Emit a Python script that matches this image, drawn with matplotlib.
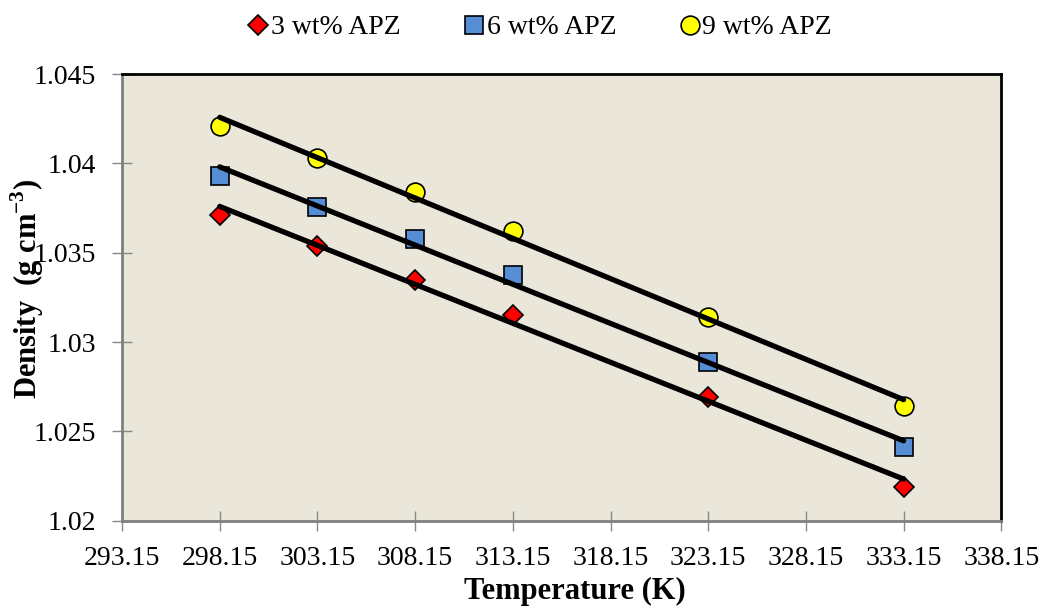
import matplotlib.pyplot as plt
import numpy as np

plt.rcParams['font.family'] = ['Liberation Serif', 'DejaVu Serif']
plt.rcParams['mathtext.fontset'] = 'custom'
plt.rcParams['mathtext.rm'] = 'Liberation Serif'
plt.rcParams['mathtext.bf'] = 'Liberation Serif:bold'

temps = [298.15, 303.15, 308.15, 313.15, 323.15, 333.15]
dens_3 = [1.03711, 1.03538, 1.03348, 1.03152, 1.02693, 1.02190]
dens_6 = [1.03930, 1.03756, 1.03577, 1.03376, 1.02889, 1.02414]
dens_9 = [1.04209, 1.04030, 1.03840, 1.03622, 1.03141, 1.02643]

xticks = [293.15, 298.15, 303.15, 308.15, 313.15, 318.15, 323.15, 328.15, 333.15, 338.15]
yticks = [1.02, 1.025, 1.03, 1.035, 1.04, 1.045]

fig = plt.figure(figsize=(10.43, 6.12), dpi=100)
ax = fig.add_axes([0.117, 0.149, 0.843, 0.730])
ax.set_facecolor('#eae6da')

series = [
    (dens_3, 'D', '#ff0000', 10.5, '3 wt% APZ'),
    (dens_6, 's', '#558ed5', 13, '6 wt% APZ'),
    (dens_9, 'o', '#ffff00', 13.5, '9 wt% APZ'),
]

x = np.array(temps)
for d, m, c, ms, lab in series:
    # linear trend line over the data range
    k, b = np.polyfit(x, d, 1)
    xx = np.array([x.min(), x.max()])
    ax.plot(xx, k * xx + b, color='black', lw=3.8, zorder=3, solid_capstyle='round')
    ax.plot(temps, d, ls='none', marker=m, ms=ms, mfc=c, mec='black', mew=1.2,
            label=lab, zorder=2)

ax.set_xlim(293.15, 338.15)
ax.set_ylim(1.02, 1.045)
ax.set_xticks(xticks)
ax.set_xticklabels(['%.2f' % t for t in xticks])
ax.set_yticks(yticks)
ax.set_yticklabels(['1.02', '1.025', '1.03', '1.035', '1.04', '1.045'])
ax.tick_params(direction='inout', length=14, width=1, color='#888888', labelsize=20)
ax.tick_params(axis='x', pad=11)
ax.tick_params(axis='y', pad=12)

for s in ['top', 'right']:
    ax.spines[s].set_color('black')
    ax.spines[s].set_linewidth(2)
for s in ['left', 'bottom']:
    ax.spines[s].set_color('#7f7f7f')
    ax.spines[s].set_linewidth(2)

ax.set_xlabel('Temperature (K)', fontsize=22, fontweight='bold')
ax.xaxis.set_label_coords(0.515, -0.125)
ax.set_ylabel(r'Density  (g cm$^{\mathbf{-3}}$)', fontsize=22, fontweight='bold')
ax.yaxis.set_label_coords(-0.087, 0.52)

leg = fig.legend(loc='center', bbox_to_anchor=(0.518, 0.955), ncol=3, frameon=False,
                 fontsize=20, handletextpad=0.1, columnspacing=2.3, handlelength=0.7,
                 borderpad=0.2)

fig.savefig('out.png', dpi=100)
